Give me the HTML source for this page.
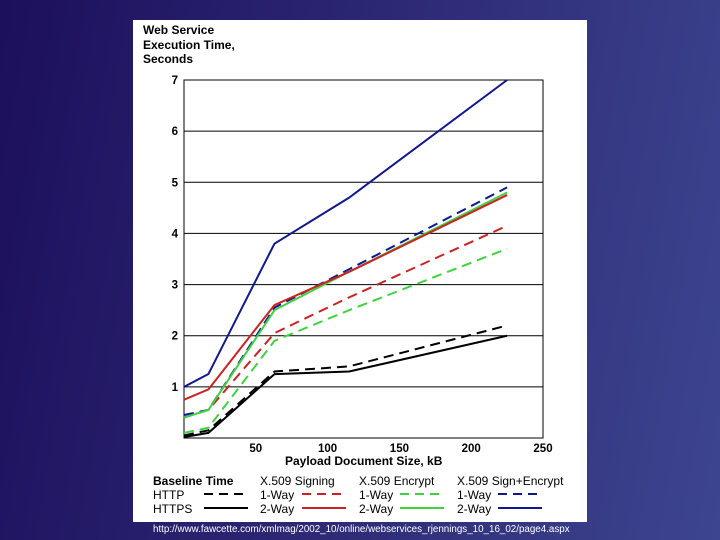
<!DOCTYPE html>
<html><head><meta charset="utf-8"><style>
body{margin:0;width:720px;height:540px;overflow:hidden;background:linear-gradient(100deg,#1c0f5c 0%,#2a2470 40%,#3d4590 100%);font-family:"Liberation Sans",sans-serif;position:relative}
#panel{position:absolute;left:133px;top:20px;width:454px;height:502px;background:#fff}
.t{position:absolute;font-size:12px;color:#000;white-space:nowrap}
#url{position:absolute;left:153px;top:524px;font-size:9.8px;color:#fff;white-space:nowrap}
</style></head><body>
<div id="panel"></div>
<svg id="chart" width="720" height="540" style="position:absolute;left:0;top:0"></svg>
<div class="t" style="left:143px;top:23px;line-height:14.5px;font-weight:bold">Web Service<br>Execution Time,<br>Seconds</div>
<div class="t" style="left:285px;top:454px;font-weight:bold">Payload Document Size, kB</div>
<div>
<div class="t" style="left:153px;top:474px;line-height:14px"><b>Baseline Time</b><br>HTTP<br>HTTPS</div>
<div class="t" style="left:260px;top:474px;line-height:14px">X.509 Signing<br>1-Way<br>2-Way</div>
<div class="t" style="left:359px;top:474px;line-height:14px">X.509 Encrypt<br>1-Way<br>2-Way</div>
<div class="t" style="left:457px;top:474px;line-height:14px">X.509 Sign+Encrypt<br>1-Way<br>2-Way</div>
</div>
<div id="url">http://www.fawcette.com/xmlmag/2002_10/online/webservices_rjennings_10_16_02/page4.aspx</div>
<script>
const xValues=[0,17,63,115,225];
const blue2=[1.0,1.25,3.8,4.7,7.0];
const blue1=[0.45,0.55,2.55,3.3,4.9];
const red2=[0.75,0.95,2.6,3.25,4.75];
const green2=[0.4,0.55,2.5,3.25,4.8];
const red1=[0.4,0.55,2.05,2.75,4.15];
const green1=[0.1,0.2,1.9,2.5,3.7];
const httpVals=[0.05,0.15,1.3,1.4,2.2];
const httpsVals=[0.02,0.1,1.25,1.3,2.0];
const xTicks=[50,100,150,200,250];
const yTicks=[1,2,3,4,5,6,7];
const svg=document.getElementById('chart');
const NS='http://www.w3.org/2000/svg';
const X=v=>184+v*(543-184)/250;
const Y=v=>438-v*(438-80)/7;
function mk(t,a){const e=document.createElementNS(NS,t);for(const k in a)e.setAttribute(k,a[k]);svg.appendChild(e);return e;}
const box=mk('rect',{x:X(0),y:Y(7),width:X(250)-X(0),height:Y(0)-Y(7),fill:'none',stroke:'#000','stroke-width':1});


yTicks.forEach(v=>{
 if(v<7){const g=mk('line',{x1:X(0),x2:X(250),y1:Y(v),y2:Y(v),stroke:'#000','stroke-width':1});
 
 }
 const t=mk('text',{x:178,y:Y(v)+4,'text-anchor':'end','font-size':11.5,'font-weight':'bold','font-family':'Liberation Sans, sans-serif'});t.textContent=v;
 
 
});
xTicks.forEach(v=>{
 const t=mk('text',{x:X(v),y:452,'text-anchor':'middle','font-size':11.5,'font-weight':'bold','font-family':'Liberation Sans, sans-serif'});t.textContent=v;
 
 
});
const series=[
 [httpsVals,'#000',null,'https'],[httpVals,'#000','10,6','http'],
 [green1,'#3fd23f','10,6','encrypt-1way'],[red1,'#cc2222','10,6','signing-1way'],
 [blue1,'#101890','10,6','sign-encrypt-1way'],[green2,'#3fd23f',null,'encrypt-2way'],
 [red2,'#cc2222',null,'signing-2way'],[blue2,'#101890',null,'sign-encrypt-2way']];
series.forEach(([d,c,da,n])=>{
 const p=mk('polyline',{points:d.map((v,i)=>X(xValues[i])+','+Y(v)).join(' '),fill:'none',stroke:c,'stroke-width':2});
 if(da)p.setAttribute('stroke-dasharray',da);
 
 
});
const leg=[[204,494,'#000','9,6'],[204,508,'#000',null],[302,494,'#cc2222','9,6'],[302,508,'#cc2222',null],[400,494,'#3fd23f','9,6'],[400,508,'#3fd23f',null],[498,494,'#101890','9,6'],[498,508,'#101890',null]];
leg.forEach(([x,y,c,da],i)=>{
 const l=mk('line',{x1:x,x2:x+44,y1:y,y2:y,stroke:c,'stroke-width':2});
 if(da)l.setAttribute('stroke-dasharray',da);
 
 
});
</script>
</body></html>
